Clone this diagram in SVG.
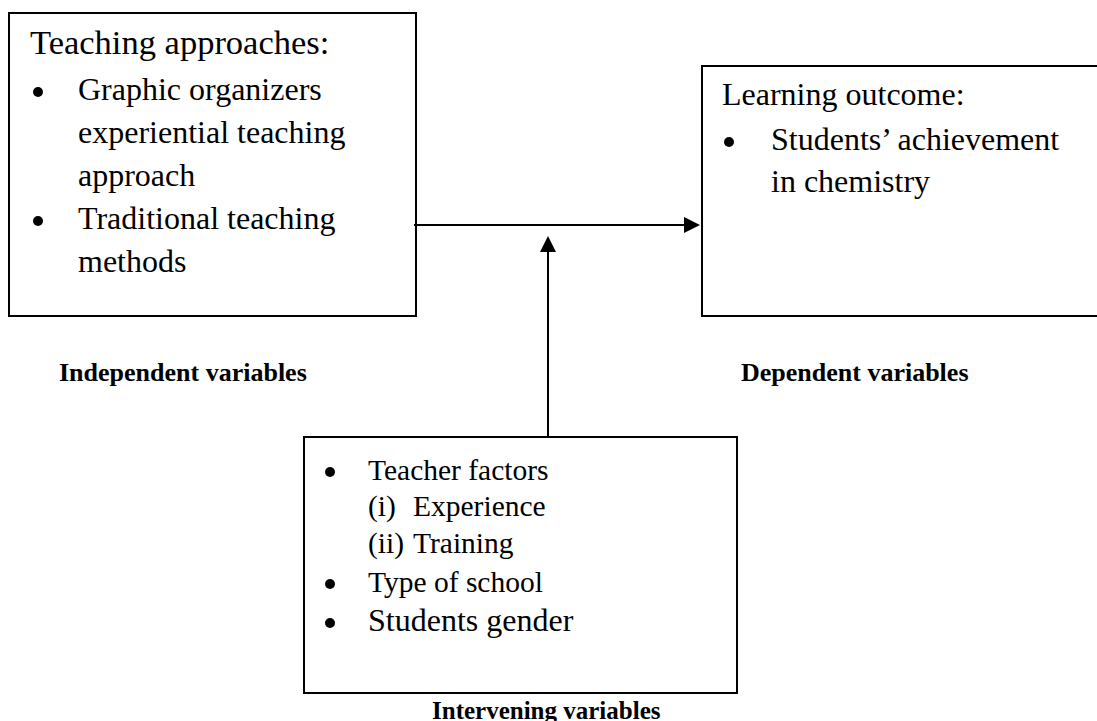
<svg xmlns="http://www.w3.org/2000/svg" width="1097" height="721" viewBox="0 0 1097 721">
  <style>
    .box { fill: #ffffff; stroke: #000000; stroke-width: 2; }
    .txt { font-family: "Liberation Serif", "Times New Roman", serif; fill: #000000; }
    .lbl { font-family: "Liberation Serif", "Times New Roman", serif; font-weight: bold; fill: #000000; }
    .dot { fill: #000000; }
    .conn { stroke: #000000; stroke-width: 2; fill: none; }
  </style>
  <defs>
    <marker id="arrow" viewBox="0 0 16 16" refX="8" refY="8" markerWidth="16" markerHeight="16" markerUnits="userSpaceOnUse" orient="auto">
      <path d="M0,0 L16,8 L0,16 Z" fill="#000000"/>
    </marker>
  </defs>
  <rect width="1097" height="721" fill="#ffffff"/>

  <!-- Independent variables -->
  <g id="teaching-approaches">
    <rect class="box" x="9" y="13" width="407" height="303"/>
    <text class="txt" x="30" y="54" font-size="34.5">Teaching approaches:</text>
    <circle class="dot" cx="38" cy="92" r="5"/>
    <text class="txt" font-size="32">
      <tspan x="78" y="100">Graphic organizers</tspan>
      <tspan x="78" y="143">experiential teaching</tspan>
      <tspan x="78" y="186">approach</tspan>
    </text>
    <circle class="dot" cx="38" cy="221" r="5"/>
    <text class="txt" font-size="32">
      <tspan x="78" y="229">Traditional teaching</tspan>
      <tspan x="78" y="272">methods</tspan>
    </text>
  </g>
  <text id="label-independent" class="lbl" x="59" y="381" font-size="26">Independent variables</text>

  <!-- Dependent variables -->
  <g id="learning-outcome">
    <rect class="box" x="702" y="66" width="400" height="250"/>
    <text class="txt" x="722" y="105" font-size="32">Learning outcome:</text>
    <circle class="dot" cx="729" cy="142" r="5"/>
    <text class="txt" font-size="32">
      <tspan x="771" y="150">Students’ achievement</tspan>
      <tspan x="771" y="192">in chemistry</tspan>
    </text>
  </g>
  <text id="label-dependent" class="lbl" x="741" y="381" font-size="26">Dependent variables</text>

  <!-- Intervening variables -->
  <g id="intervening-factors">
    <rect class="box" x="304" y="437" width="433" height="256"/>
    <circle class="dot" cx="330" cy="472" r="5"/>
    <text class="txt" x="368" y="480" font-size="29.5">Teacher factors</text>
    <text class="txt" y="516" font-size="29.5"><tspan x="368">(i)</tspan><tspan x="413">Experience</tspan></text>
    <text class="txt" y="553" font-size="29.5"><tspan x="368">(ii)</tspan><tspan x="413">Training</tspan></text>
    <circle class="dot" cx="330" cy="584" r="5"/>
    <text class="txt" x="368" y="592" font-size="29.5">Type of school</text>
    <circle class="dot" cx="330" cy="623" r="5"/>
    <text class="txt" x="368" y="631" font-size="32">Students gender</text>
  </g>
  <text id="label-intervening" class="lbl" x="432" y="719" font-size="25">Intervening variables</text>

  <!-- Connectors -->
  <g id="connectors">
    <line class="conn" x1="414" y1="225" x2="692" y2="225" marker-end="url(#arrow)"/>
    <line class="conn" x1="548" y1="437" x2="548" y2="244" marker-end="url(#arrow)"/>
  </g>
</svg>
